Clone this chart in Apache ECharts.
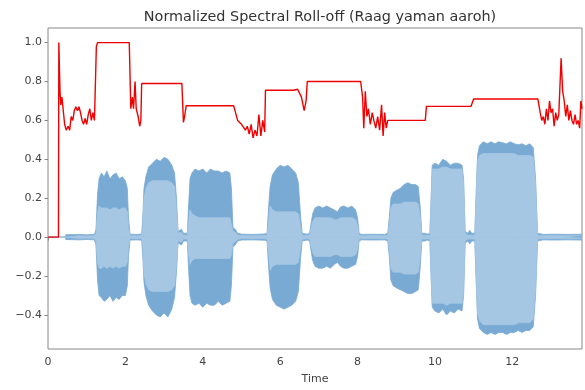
<!DOCTYPE html>
<html>
<head>
<meta charset="utf-8">
<script src="https://cdn.jsdelivr.net/npm/echarts@6/dist/echarts.min.js"></script>
<style>
	html, body { margin: 0; padding: 0; background: #fff; }
	#chart { width: 585px; height: 390px; }
</style>
</head>
<body>
<div id="chart"></div>
<script>
//波形包络（时间，外层上下沿，内层上下沿），按音符分段写
var waveTime = [
	0, 0.44, 0.46, 0.8, 1.0, 1.2,
	1.24, 1.28, 1.32, 1.38, 1.45, 1.52, 1.6, 1.68, 1.76, 1.84, 1.92, 2.0, 2.05, 2.08, 2.12,
	2.3, 2.42,
	2.45, 2.48, 2.53, 2.6, 2.7, 2.8, 2.9, 3.0, 3.1, 3.2, 3.27, 3.32, 3.36,
	3.4, 3.45, 3.5, 3.6,
	3.63, 3.67, 3.72, 3.8, 3.9, 4.0, 4.1, 4.2, 4.3, 4.4, 4.5, 4.6, 4.7, 4.74, 4.78,
	4.84, 4.9, 5.0, 5.3, 5.6, 5.66,
	5.7, 5.74, 5.8, 5.9, 6.0, 6.1, 6.2, 6.3, 6.4, 6.47, 6.53, 6.57,
	6.62, 6.7, 6.76,
	6.79, 6.84, 6.9, 7.0, 7.1, 7.2, 7.3, 7.4, 7.48, 7.56, 7.65, 7.75, 7.85, 7.95, 8.0, 8.04,
	8.1, 8.4, 8.7, 8.78,
	8.82, 8.86, 8.92, 9.0, 9.1, 9.2, 9.3, 9.4, 9.5, 9.57, 9.62, 9.66,
	9.7, 9.74, 9.8, 9.87,
	9.9, 9.93, 10.0, 10.1, 10.2, 10.3, 10.4, 10.5, 10.6, 10.7, 10.74, 10.78,
	10.85, 10.9, 10.95, 11.03,
	11.06, 11.1, 11.15, 11.25, 11.35, 11.45, 11.55, 11.65, 11.75, 11.85, 11.95, 12.05, 12.15, 12.25, 12.35, 12.45, 12.54, 12.6, 12.65,
	12.8, 13.1, 13.4, 13.8
];
var outerTop = [
	0, 0, 0.012, 0.014, 0.012, 0.014,
	0.04, 0.22, 0.30, 0.33, 0.31, 0.34, 0.30, 0.32, 0.33, 0.30, 0.31, 0.29, 0.25, 0.1, 0.015,
	0.014, 0.016,
	0.1, 0.25, 0.31, 0.36, 0.38, 0.40, 0.39, 0.41, 0.40, 0.37, 0.33, 0.2, 0.03,
	0.02, 0.04, 0.02, 0.02,
	0.15, 0.30, 0.33, 0.35, 0.34, 0.35, 0.33, 0.35, 0.34, 0.34, 0.33, 0.34, 0.33, 0.25, 0.05,
	0.04, 0.02, 0.015, 0.014, 0.016, 0.02,
	0.15, 0.26, 0.32, 0.35, 0.37, 0.36, 0.37, 0.35, 0.33, 0.28, 0.1, 0.02,
	0.015, 0.015, 0.02,
	0.06, 0.12, 0.15, 0.16, 0.15, 0.16, 0.15, 0.14, 0.13, 0.155, 0.16, 0.15, 0.16, 0.14, 0.1, 0.02,
	0.014, 0.015, 0.014, 0.02,
	0.1, 0.2, 0.23, 0.24, 0.25, 0.27, 0.28, 0.27, 0.27, 0.26, 0.15, 0.02,
	0.03, 0.02, 0.015, 0.02,
	0.2, 0.37, 0.38, 0.37, 0.40, 0.39, 0.37, 0.38, 0.38, 0.37, 0.3, 0.03,
	0.02, 0.035, 0.02, 0.02,
	0.2, 0.42, 0.47, 0.49, 0.48, 0.49, 0.48, 0.49, 0.485, 0.48, 0.49, 0.48, 0.475, 0.48, 0.47, 0.48, 0.46, 0.3, 0.02,
	0.014, 0.015, 0.014, 0.015
];
var outerBottom = [
	0, 0, -0.012, -0.014, -0.012, -0.014,
	-0.04, -0.22, -0.30, -0.31, -0.33, -0.32, -0.30, -0.33, -0.31, -0.32, -0.30, -0.30, -0.25, -0.1, -0.015,
	-0.014, -0.016,
	-0.1, -0.23, -0.30, -0.35, -0.38, -0.40, -0.41, -0.39, -0.41, -0.37, -0.31, -0.18, -0.03,
	-0.02, -0.04, -0.02, -0.02,
	-0.15, -0.30, -0.34, -0.35, -0.34, -0.36, -0.34, -0.35, -0.35, -0.33, -0.35, -0.34, -0.33, -0.25, -0.05,
	-0.04, -0.02, -0.015, -0.014, -0.016, -0.02,
	-0.15, -0.26, -0.32, -0.35, -0.36, -0.37, -0.36, -0.35, -0.33, -0.28, -0.1, -0.02,
	-0.015, -0.015, -0.02,
	-0.06, -0.12, -0.15, -0.16, -0.16, -0.15, -0.16, -0.14, -0.13, -0.15, -0.16, -0.16, -0.15, -0.14, -0.1, -0.02,
	-0.014, -0.015, -0.014, -0.02,
	-0.1, -0.22, -0.25, -0.26, -0.27, -0.28, -0.29, -0.29, -0.28, -0.27, -0.15, -0.02,
	-0.03, -0.02, -0.015, -0.02,
	-0.2, -0.36, -0.38, -0.39, -0.37, -0.40, -0.38, -0.39, -0.37, -0.38, -0.3, -0.03,
	-0.02, -0.035, -0.02, -0.02,
	-0.2, -0.42, -0.47, -0.49, -0.50, -0.49, -0.50, -0.49, -0.49, -0.50, -0.49, -0.49, -0.48, -0.49, -0.48, -0.48, -0.46, -0.3, -0.02,
	-0.014, -0.015, -0.014, -0.015
];
var innerTop = [
	0, 0, 0.006, 0.007, 0.006, 0.007,
	0.02, 0.13, 0.16, 0.15, 0.15, 0.15, 0.14, 0.15, 0.15, 0.14, 0.15, 0.15, 0.13, 0.05, 0.007,
	0.007, 0.008,
	0.05, 0.2, 0.25, 0.28, 0.29, 0.29, 0.29, 0.29, 0.29, 0.28, 0.26, 0.15, 0.02,
	0.01, 0.025, 0.01, 0.01,
	0.08, 0.14, 0.12, 0.11, 0.10, 0.10, 0.10, 0.10, 0.10, 0.10, 0.10, 0.10, 0.10, 0.09, 0.03,
	0.025, 0.01, 0.008, 0.007, 0.008, 0.01,
	0.08, 0.16, 0.14, 0.13, 0.13, 0.13, 0.13, 0.13, 0.13, 0.12, 0.05, 0.01,
	0.008, 0.008, 0.01,
	0.04, 0.08, 0.1, 0.1, 0.1, 0.1, 0.1, 0.09, 0.09, 0.1, 0.1, 0.1, 0.1, 0.09, 0.06, 0.01,
	0.007, 0.008, 0.007, 0.01,
	0.06, 0.15, 0.17, 0.17, 0.17, 0.18, 0.18, 0.18, 0.18, 0.17, 0.1, 0.01,
	0.015, 0.01, 0.008, 0.01,
	0.18, 0.35, 0.35, 0.35, 0.36, 0.36, 0.35, 0.35, 0.35, 0.35, 0.28, 0.02,
	0.01, 0.02, 0.01, 0.01,
	0.18, 0.39, 0.42, 0.43, 0.43, 0.43, 0.43, 0.43, 0.43, 0.43, 0.43, 0.43, 0.42, 0.42, 0.42, 0.42, 0.41, 0.27, 0.01,
	0.007, 0.008, 0.007, 0.008
];
var innerBottom = [
	0, 0, -0.006, -0.007, -0.006, -0.007,
	-0.02, -0.13, -0.16, -0.16, -0.15, -0.16, -0.15, -0.16, -0.15, -0.16, -0.15, -0.15, -0.13, -0.05, -0.007,
	-0.007, -0.008,
	-0.05, -0.19, -0.24, -0.27, -0.28, -0.28, -0.28, -0.28, -0.28, -0.27, -0.25, -0.14, -0.02,
	-0.01, -0.025, -0.01, -0.01,
	-0.08, -0.14, -0.12, -0.11, -0.11, -0.11, -0.11, -0.11, -0.11, -0.11, -0.11, -0.11, -0.11, -0.09, -0.03,
	-0.025, -0.01, -0.008, -0.007, -0.008, -0.01,
	-0.08, -0.17, -0.15, -0.14, -0.14, -0.14, -0.14, -0.14, -0.14, -0.13, -0.05, -0.01,
	-0.008, -0.008, -0.01,
	-0.04, -0.08, -0.1, -0.1, -0.1, -0.1, -0.1, -0.09, -0.09, -0.1, -0.1, -0.1, -0.1, -0.09, -0.06, -0.01,
	-0.007, -0.008, -0.007, -0.01,
	-0.06, -0.16, -0.18, -0.18, -0.18, -0.19, -0.19, -0.19, -0.19, -0.18, -0.1, -0.01,
	-0.015, -0.01, -0.008, -0.01,
	-0.18, -0.34, -0.34, -0.34, -0.34, -0.35, -0.34, -0.34, -0.34, -0.34, -0.28, -0.02,
	-0.01, -0.02, -0.01, -0.01,
	-0.18, -0.39, -0.43, -0.45, -0.45, -0.45, -0.45, -0.45, -0.45, -0.45, -0.45, -0.45, -0.44, -0.44, -0.44, -0.44, -0.42, -0.27, -0.01,
	-0.007, -0.008, -0.007, -0.008
];

//归一化谱滚降（红线）
var rollTime = [
	0, 0.27, 0.28, 0.31, 0.33, 0.36, 0.39, 0.43, 0.47, 0.52, 0.56, 0.6, 0.64, 0.68, 0.72, 0.76, 0.8, 0.84, 0.88, 0.92, 0.96, 1.0, 1.04, 1.08, 1.12, 1.16, 1.2, 1.25, 1.28,
	2.1, 2.14, 2.18, 2.21, 2.25, 2.28, 2.33, 2.37, 2.4, 2.42,
	3.46, 3.5, 3.53, 3.57,
	4.8, 4.86, 4.9, 4.95, 5.0, 5.05, 5.1, 5.15, 5.2, 5.25, 5.3, 5.35, 5.4, 5.45, 5.5, 5.55, 5.6, 5.62,
	6.35, 6.45, 6.55, 6.62, 6.67, 6.7,
	8.08, 8.13, 8.16, 8.2, 8.24, 8.28, 8.33, 8.38, 8.42, 8.47, 8.52, 8.57, 8.62, 8.66, 8.7, 8.74, 8.78,
	9.75, 9.78, 10.93, 10.96, 11.0,
	12.66, 12.72, 12.76, 12.8, 12.84, 12.88, 12.92, 12.96, 13.0, 13.04, 13.08, 13.12, 13.16, 13.2, 13.26,
	13.3, 13.34, 13.38, 13.42, 13.46, 13.5, 13.54, 13.58, 13.62, 13.66, 13.7, 13.74, 13.77, 13.8
];
var rollValue = [
	0, 0, 1.0, 0.75, 0.68, 0.72, 0.66, 0.58, 0.55, 0.57, 0.55, 0.62, 0.6, 0.65, 0.67, 0.65, 0.67, 0.64, 0.6, 0.58, 0.61, 0.58, 0.63, 0.66, 0.6, 0.64, 0.6, 0.98, 1.0,
	1.0, 0.66, 0.72, 0.66, 0.8, 0.66, 0.62, 0.57, 0.6, 0.79,
	0.79, 0.59, 0.62, 0.675,
	0.675, 0.63, 0.6, 0.61, 0.58, 0.59, 0.55, 0.57, 0.53, 0.58, 0.51, 0.55, 0.52, 0.63, 0.52, 0.6, 0.54, 0.755,
	0.755, 0.76, 0.72, 0.65, 0.7, 0.8,
	0.8, 0.72, 0.56, 0.75, 0.62, 0.66, 0.58, 0.64, 0.6, 0.56, 0.62, 0.55, 0.68, 0.52, 0.64, 0.56, 0.6,
	0.6, 0.672, 0.672, 0.665, 0.71,
	0.71, 0.64, 0.6, 0.62, 0.58, 0.66, 0.6, 0.7, 0.64, 0.66, 0.57, 0.64, 0.6, 0.63, 0.92,
	0.75, 0.7, 0.62, 0.68, 0.6, 0.65, 0.6, 0.58, 0.63, 0.58, 0.6, 0.56, 0.7, 0.66
];

var xTicks = [0, 2, 4, 6, 8, 10, 12];
var yTicks = [-0.4, -0.2, 0.0, 0.2, 0.4, 0.6, 0.8, 1.0];

function pairUp(xs, ys){
	var out = [];
	for (var i = 0; i < xs.length; i++){
		out.push([xs[i], ys[i]]);
	}
	return out;
}
function areaSeries(name, ys, color, z){
	return {
		name: name,
		type: 'line',
		data: pairUp(waveTime, ys),
		showSymbol: false,
		silent: true,
		z: z,
		lineStyle: { color: color, width: 0.8 },
		areaStyle: { color: color, opacity: 1, origin: 0 }
	};
}
function tickLabel(v){
	return (v < 0 ? '\u2212' : '') + Math.abs(v).toFixed(1);
}

var chart = echarts.init(document.getElementById('chart'));
var option = {
	animation: false,
	backgroundColor: '#fff',
	title: {
		text: 'Normalized Spectral Roll-off (Raag yaman aaroh)',
		left: 315,
		top: 5,
		textAlign: 'center',
		textStyle: {
			fontFamily: 'DejaVu Sans',
			fontSize: 14.4,
			fontWeight: 'normal',
			color: '#333'
		}
	},
	grid: {
		left: 48,
		right: 3,
		top: 28,
		bottom: 36,
		show: true,
		borderColor: '#888',
		borderWidth: 1
	},
	xAxis: {
		type: 'value',
		min: 0,
		max: 13.8,
		name: 'Time',
		nameLocation: 'middle',
		nameGap: 25,
		nameTextStyle: { fontFamily: 'DejaVu Sans', fontSize: 11, color: '#444' },
		axisLine: { show: false },
		splitLine: { show: false },
		axisTick: { show: true, length: 3.5, lineStyle: { color: '#888' }, customValues: xTicks },
		axisLabel: {
			fontFamily: 'DejaVu Sans', fontSize: 11, color: '#444', margin: 8,
			customValues: xTicks,
			formatter: function(v){ return String(v); }
		}
	},
	yAxis: {
		type: 'value',
		min: -0.575,
		max: 1.075,
		axisLine: { show: false },
		splitLine: { show: false },
		axisTick: { show: true, length: 3.5, lineStyle: { color: '#888' }, customValues: yTicks },
		axisLabel: {
			fontFamily: 'DejaVu Sans', fontSize: 11, color: '#444', margin: 6,
			customValues: yTicks,
			formatter: tickLabel
		}
	},
	series: [
		areaSeries('outerTop', outerTop, '#79aad4', 1),
		areaSeries('outerBottom', outerBottom, '#79aad4', 1),
		areaSeries('innerTop', innerTop, '#a5c7e3', 2),
		areaSeries('innerBottom', innerBottom, '#a5c7e3', 2),
		{
			name: 'rolloff',
			type: 'line',
			data: pairUp(rollTime, rollValue),
			showSymbol: false,
			silent: true,
			z: 5,
			lineStyle: { color: '#f00000', width: 1.4 }
		}
	]
};
chart.setOption(option);
</script>
</body>
</html>
